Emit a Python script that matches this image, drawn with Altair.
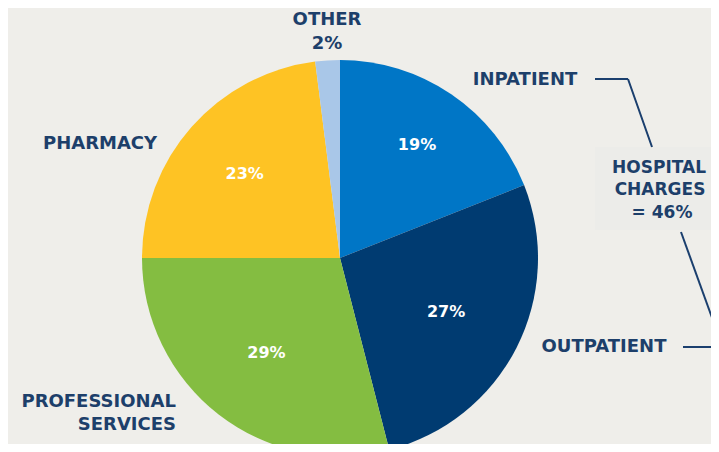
import altair as alt
import pandas as pd

# ---- data ----
categories = ["Inpatient", "Outpatient", "Professional services", "Pharmacy", "Other"]
values = [19, 27, 29, 23, 2]
inner_labels = ["19%", "27%", "29%", "23%", ""]
colors = ["#0076C6", "#003B71", "#84BD41", "#FEC324", "#A9C7E8"]
label_radius = [137, 119, 120, 127]

df = pd.DataFrame({
    "category": categories,
    "value": values,
    "label": inner_labels,
    "order": list(range(len(categories))),
})

NAVY = "#1D3F6A"
BG = "#EFEEEA"
FONT = "DejaVu Sans"
CX, CY, R = 332, 250, 198

color_scale = alt.Scale(domain=categories, range=colors)
theta_scale = alt.Scale(domain=[0, 100])

pie = alt.Chart(df).mark_arc(radius=R).encode(
    theta=alt.Theta("value:Q", stack=True, scale=theta_scale),
    order=alt.Order("order:Q"),
    color=alt.Color("category:N", scale=color_scale, legend=None),
    x=alt.value(CX),
    y=alt.value(CY),
)

txt_base = alt.Chart(df).transform_window(
    cum="sum(value)", sort=[alt.SortField("order")], frame=[None, 0]
).transform_calculate(mid="datum.cum - datum.value / 2")

inner_layers = []
for cat, r in zip(categories[:4], label_radius):
    inner_layers.append(
        txt_base.transform_filter(alt.datum.category == cat).mark_text(
            radius=r, fontSize=16, fontWeight="bold", font=FONT, color="white"
        ).encode(
            theta=alt.Theta("mid:Q", scale=theta_scale),
            text="label:N",
            x=alt.value(CX),
            y=alt.value(CY),
        )
    )


def label(txt, x, y, align="center", size=18):
    return alt.Chart(alt.Data(values=[{}])).mark_text(
        text=txt, align=align, baseline="middle", fontSize=size,
        fontWeight="bold", font=FONT, color=NAVY,
    ).encode(x=alt.value(x), y=alt.value(y))


def rule(x1, y1, x2, y2):
    return alt.Chart(alt.Data(values=[{}])).mark_rule(
        color="#1B3F6E", strokeWidth=2
    ).encode(x=alt.value(x1), y=alt.value(y1), x2=alt.value(x2), y2=alt.value(y2))


box = alt.Chart(alt.Data(values=[{}])).mark_rect(color="#ECECE9").encode(
    x=alt.value(587), y=alt.value(139), x2=alt.value(720), y2=alt.value(222)
)

layers = [
    box,
    pie,
    *inner_layers,
    label("INPATIENT", 517, 72),
    label("OUTPATIENT", 596, 339),
    label("PHARMACY", 92, 136),
    label("PROFESSIONAL", 168, 394, align="right"),
    label("SERVICES", 168, 417, align="right"),
    label("OTHER", 319, 12),
    label("2%", 319, 36),
    label("HOSPITAL", 651, 160, size=17),
    label("CHARGES", 652, 182, size=17),
    label("= 46%", 654, 205, size=17),
    rule(587, 71, 620, 71),
    rule(620, 71, 644, 139),
    rule(673, 224, 715, 340),
    rule(675, 339, 720, 339),
]

chart = alt.layer(*layers).properties(
    width=703, height=436, padding=0,
    autosize=alt.AutoSizeParams(type="none"),
    background=BG,
).configure_view(stroke=None)

chart.save("out.html", embed_options={"renderer": "svg", "actions": False})
